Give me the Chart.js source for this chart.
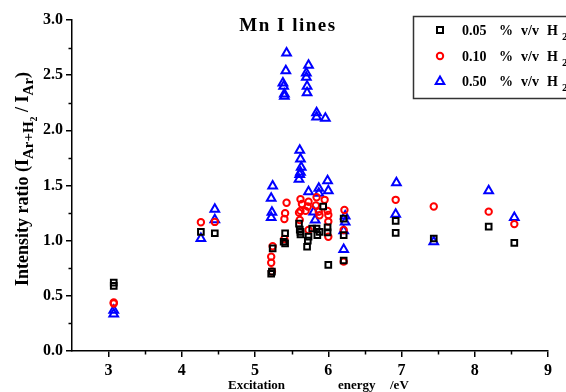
<!DOCTYPE html>
<html>
<head>
<meta charset="utf-8">
<script src="https://cdn.jsdelivr.net/npm/chart.js@4/dist/chart.umd.min.js"></script>
<style>
  html, body { margin: 0; padding: 0; background: #fff; }
  #box { width: 566px; height: 392px; }
</style>
</head>
<body>
<div id="box"><canvas id="grafico" width="566" height="392"></canvas></div>
<script>
// Valores (energia de excitação em eV, razão de intensidade)
const serieNomes = ['0.05', '0.10', '0.50'];

const energia05 = [3.07, 3.07, 4.26, 4.45, 5.22, 5.23, 5.24, 5.39, 5.41, 5.41, 5.60, 5.61, 5.62, 5.62, 5.71, 5.72, 5.73,
    5.78, 5.84, 5.85, 5.88, 5.93, 5.99, 5.99, 6.00, 6.21, 6.21, 6.21, 6.92, 6.92, 7.44, 8.19, 8.54];
const razao05 = [0.62, 0.59, 1.08, 1.067, 0.70, 0.72, 0.93, 0.99, 0.975, 1.067, 1.155, 1.10, 1.057, 1.08, 0.945, 1.00, 1.036,
    1.11, 1.11, 1.05, 1.08, 1.31, 1.12, 1.075, 0.78, 1.20, 1.05, 0.82, 1.18, 1.07, 1.02, 1.127, 0.98];

const energia10 = [3.07, 3.07, 4.26, 4.45, 5.22, 5.22, 5.23, 5.24, 5.40, 5.40, 5.41, 5.43, 5.60, 5.61, 5.62, 5.62, 5.64,
    5.69, 5.72, 5.73, 5.73, 5.83, 5.84, 5.87, 5.88, 5.95, 5.99, 6.00, 6.00, 6.00, 6.21, 6.21, 6.22, 6.92, 7.44, 8.19, 8.54];
const razao10 = [0.44, 0.43, 1.167, 1.17, 0.855, 0.80, 0.72, 0.95, 1.015, 1.196, 1.248, 1.344, 1.254, 1.187, 1.27, 1.375, 1.332,
    1.27, 1.31, 1.353, 1.097, 1.32, 1.393, 1.263, 1.23, 1.37, 1.27, 1.233, 1.173, 1.036, 0.81, 1.097, 1.278, 1.37, 1.31, 1.263, 1.15];

const energia50 = [3.07, 3.07, 4.26, 4.45, 4.45, 5.22, 5.23, 5.22, 5.24, 5.38, 5.39, 5.40, 5.40, 5.42, 5.43, 5.60, 5.61, 5.62,
    5.63, 5.62, 5.61, 5.70, 5.70, 5.71, 5.71, 5.73, 5.73, 5.80, 5.82, 5.84, 5.84, 5.87, 5.87, 5.96, 5.99, 6.00, 6.21, 6.21,
    6.23, 6.23, 6.93, 6.92, 7.44, 8.19, 8.54];
const razao50 = [0.37, 0.335, 1.02, 1.19, 1.284, 1.21, 1.257, 1.384, 1.495, 2.43, 2.40, 2.33, 2.31, 2.54, 2.70, 1.556, 1.60, 1.62,
    1.665, 1.74, 1.82, 2.52, 2.48, 2.40, 2.34, 2.59, 1.444, 1.26, 1.187, 2.16, 2.12, 1.475, 1.43, 2.11, 1.543, 1.453, 0.92, 1.09,
    1.17, 1.224, 1.525, 1.24, 0.99, 1.453, 1.21];

// Ticks dos eixos
const xTicks = [3, 4, 5, 6, 7, 8, 9];
const xTicksMenores = [3.5, 4.5, 5.5, 6.5, 7.5, 8.5];
const yTicks = [0, 0.5, 1.0, 1.5, 2.0, 2.5, 3.0];
const yTicksMenores = [0.25, 0.75, 1.25, 1.75, 2.25, 2.75];

const fonte = '"Liberation Serif", "Times New Roman", serif';
const cores = ['#000000', '#ff0000', '#0000ff'];
const simbolos = ['rect', 'circle', 'triangle'];
const raios = [4, 3.2, 5];

const pontos = (xs, ys) => xs.map((x, i) => ({ x: x, y: ys[i] }));
const series = [pontos(energia05, razao05), pontos(energia10, razao10), pontos(energia50, razao50)];

// Desenha o texto que o Chart.js não faz: título, legenda e rótulos dos eixos
const extras = {
    id: 'extras',
    afterDraw(chart) {
        const ctx = chart.ctx;
        const sx = chart.scales.x, sy = chart.scales.y;
        ctx.save();

        // ticks menores
        ctx.strokeStyle = '#000';
        ctx.lineWidth = 1.5;
        ctx.beginPath();
        xTicksMenores.forEach(v => {
            const px = Math.round(sx.getPixelForValue(v)) + 0.5;
            ctx.moveTo(px, sy.bottom);
            ctx.lineTo(px, sy.bottom + 3.5);
        });
        yTicksMenores.forEach(v => {
            const py = Math.round(sy.getPixelForValue(v)) + 0.5;
            ctx.moveTo(sx.left, py);
            ctx.lineTo(sx.left - 3.5, py);
        });
        ctx.stroke();

        ctx.fillStyle = '#000';
        ctx.textBaseline = 'alphabetic';

        // título
        ctx.font = 'bold 19px ' + fonte;
        ctx.textAlign = 'center';
        if ('letterSpacing' in ctx) ctx.letterSpacing = '1.5px';
        ctx.fillText('Mn I lines', 288, 31);
        if ('letterSpacing' in ctx) ctx.letterSpacing = '0px';

        // rótulo do eixo x
        ctx.textAlign = 'left';
        ctx.font = 'bold 13px ' + fonte;
        ctx.fillText('Excitation', 228, 389);
        ctx.fillText('energy', 338, 389);
        ctx.fillText('/eV', 390, 389);

        // rótulo do eixo y com subscritos
        const partes = [
            ['Intensity ratio (I', 18, 0],
            ['Ar+H', 15, 5],
            ['2', 10, 9],
            [' / I', 18, 0],
            ['Ar', 15, 5],
            [')', 18, 0]
        ];
        let total = 0;
        partes.forEach(p => { ctx.font = 'bold ' + p[1] + 'px ' + fonte; total += ctx.measureText(p[0]).width; });
        ctx.save();
        ctx.translate(28, 179);
        ctx.rotate(-Math.PI / 2);
        let cx = -total / 2;
        partes.forEach(p => {
            ctx.font = 'bold ' + p[1] + 'px ' + fonte;
            ctx.fillText(p[0], cx, p[2]);
            cx += ctx.measureText(p[0]).width;
        });
        ctx.restore();

        // legenda
        ctx.strokeStyle = '#333';
        ctx.lineWidth = 1.5;
        ctx.strokeRect(413.5, 16.5, 170, 82);
        const linhas = [30, 56, 81];
        serieNomes.forEach((nome, i) => {
            const ly = linhas[i];
            ctx.strokeStyle = cores[i];
            ctx.lineWidth = 2;
            ctx.beginPath();
            if (i === 0) {
                ctx.rect(437, ly - 3, 6, 6);
            } else if (i === 1) {
                ctx.arc(440, ly, 3.2, 0, Math.PI * 2);
            } else {
                ctx.moveTo(440, ly - 4.5);
                ctx.lineTo(444.3, ly + 3);
                ctx.lineTo(435.7, ly + 3);
                ctx.closePath();
            }
            ctx.stroke();
            ctx.fillStyle = '#000';
            ctx.font = 'bold 14px ' + fonte;
            ctx.fillText(nome, 462, ly + 5);
            ctx.fillText('%', 499, ly + 5);
            ctx.fillText('v/v', 521, ly + 5);
            ctx.fillText('H', 547, ly + 5);
            ctx.font = 'bold 11px ' + fonte;
            ctx.fillText('2', 562, ly + 10);
        });

        ctx.restore();
    }
};

function initGrafico() {
    const ctx = document.getElementById('grafico').getContext('2d');
    return new Chart(ctx, {
        type: 'scatter',
        data: {
            datasets: series.map((dados, i) => ({
                label: serieNomes[i] + ' % v/v H2',
                data: dados,
                pointStyle: simbolos[i],
                pointRadius: raios[i],
                pointBorderWidth: 2,
                pointBorderColor: cores[i],
                pointBackgroundColor: 'rgba(0,0,0,0)',
                showLine: false
            }))
        },
        options: {
            responsive: false,
            animation: false,
            events: [],
            layout: { padding: { top: 20, right: 18, left: 0, bottom: 0 } },
            plugins: { legend: { display: false }, tooltip: { enabled: false } },
            scales: {
                x: {
                    type: 'linear',
                    min: 2.5,
                    max: 9,
                    afterBuildTicks: s => { s.ticks = xTicks.map(v => ({ value: v })); },
                    afterFit: s => { s.height = 41; },
                    grid: { drawOnChartArea: false, drawTicks: true, tickLength: 6, color: '#000', lineWidth: 1.5 },
                    border: { display: true, color: '#000', width: 1.5 },
                    ticks: {
                        color: '#000',
                        padding: 4,
                        maxRotation: 0,
                        font: { family: fonte, size: 16, weight: 'bold' },
                        callback: v => String(v)
                    }
                },
                y: {
                    type: 'linear',
                    min: 0,
                    max: 3,
                    afterBuildTicks: s => { s.ticks = yTicks.map(v => ({ value: v })); },
                    afterFit: s => { s.width = 72; },
                    grid: { drawOnChartArea: false, drawTicks: true, tickLength: 6, color: '#000', lineWidth: 1.5 },
                    border: { display: true, color: '#000', width: 1.5 },
                    ticks: {
                        color: '#000',
                        padding: 3,
                        font: { family: fonte, size: 16, weight: 'bold' },
                        callback: v => Number(v).toFixed(1)
                    }
                }
            }
        },
        plugins: [extras]
    });
}

initGrafico();
</script>
</body>
</html>
